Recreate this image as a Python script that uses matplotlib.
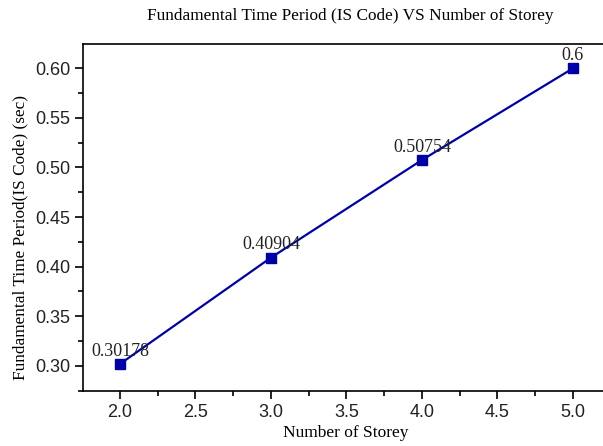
import matplotlib
matplotlib.use("Agg")
import matplotlib.pyplot as plt
from matplotlib.ticker import MultipleLocator

# data
storeys = [2, 3, 4, 5]
periods = [0.30178, 0.40904, 0.50754, 0.6]
labels = ["0.30178", "0.40904", "0.50754", "0.6"]

serif = "Liberation Serif"
sans = "Liberation Sans"
blue = "#0000A8"

fig = plt.figure(figsize=(6.03, 4.46), dpi=100)
ax = fig.add_axes([0.1376, 0.1233, 0.874, 0.778])

ax.plot(storeys, periods, color=blue, lw=1.6, marker="s", ms=7.5,
        markerfacecolor=blue, markeredgecolor=blue)

for x, y, t in zip(storeys, periods, labels):
    ax.annotate(t, (x, y), xytext=(0, 6), textcoords="offset points",
                ha="center", va="baseline", fontsize=13, family=serif,
                color="#222222")

ax.set_xlim(1.755, 5.245)
ax.set_ylim(0.2745, 0.6245)
ax.xaxis.set_major_locator(MultipleLocator(0.5))
ax.xaxis.set_minor_locator(MultipleLocator(0.25))
ax.yaxis.set_major_locator(MultipleLocator(0.05))
ax.yaxis.set_minor_locator(MultipleLocator(0.025))
ax.xaxis.set_major_formatter(plt.FormatStrFormatter("%.1f"))
ax.yaxis.set_major_formatter(plt.FormatStrFormatter("%.2f"))

ax.spines["right"].set_visible(False)
for s in ["top", "bottom", "left"]:
    ax.spines[s].set_linewidth(1.2)
ax.tick_params(which="both", direction="out", top=False, right=False, width=1.2)
ax.tick_params(which="major", length=6, labelsize=13, pad=3)
ax.tick_params(which="minor", length=3.5)
for lab in ax.get_xticklabels() + ax.get_yticklabels():
    lab.set_family(sans)
    lab.set_color("#222222")

fig.text(346 / 603, 1 - 433 / 446, "Number of Storey", ha="center", va="center",
         family=serif, fontsize=12.5)
fig.text(20 / 603, 1 - 238 / 446, "Fundamental Time Period(IS Code) (sec)",
         ha="center", va="center", rotation=90, family=serif, fontsize=12.4)
fig.text(350 / 603, 1 - 16 / 446, "Fundamental Time Period (IS Code) VS Number of Storey",
         ha="center", va="center", family=serif, fontsize=12.4)

fig.savefig("out.png", dpi=100)
